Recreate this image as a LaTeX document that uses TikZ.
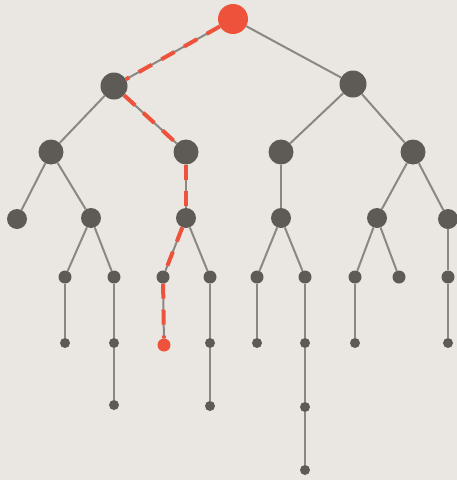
\documentclass[tikz,border=0pt]{standalone}
\usepackage{tikz}
\definecolor{paper}{HTML}{EAE7E3}
\definecolor{dot}{HTML}{5E5A56}
\definecolor{edge}{HTML}{8B8884}
\definecolor{hot}{HTML}{EE523B}

\begin{document}
\begin{tikzpicture}[x=1pt, y=-1pt,
    vert/.style = {circle, fill=dot, inner sep=0pt, minimum size=#1},
    link/.style = {draw=edge, line width=2pt},
    path/.style = {draw=hot, line width=4pt, dash pattern=on 15pt off 11pt}]
    % Background
    \fill[paper] (0,0) rectangle (457,480);
    \useasboundingbox (0,0) rectangle (457,480);

    % Root and first level
    \node[vert=30pt, fill=hot] (r) at (233,19) {};
    \node[vert=27pt] (a1) at (114,86) {};
    \node[vert=27pt] (a2) at (353,84) {};

    % Second level
    \node[vert=25pt] (b1) at (51,152) {};
    \node[vert=25pt] (b2) at (186,152) {};
    \node[vert=25pt] (b3) at (281,152) {};
    \node[vert=25pt] (b4) at (413,152) {};

    % Third level
    \node[vert=20pt] (c1) at (17,219) {};
    \node[vert=20pt] (c2) at (91,218) {};
    \node[vert=20pt] (c3) at (186,218) {};
    \node[vert=20pt] (c4) at (281,218) {};
    \node[vert=20pt] (c5) at (377,218) {};
    \node[vert=20pt] (c6) at (448,219) {};

    % Fourth level
    \node[vert=13pt] (d1) at (65,277) {};
    \node[vert=13pt] (d2) at (114,277) {};
    \node[vert=13pt] (d3) at (163,277) {};
    \node[vert=13pt] (d4) at (210,277) {};
    \node[vert=13pt] (d5) at (257,277) {};
    \node[vert=13pt] (d6) at (305,277) {};
    \node[vert=13pt] (d7) at (355,277) {};
    \node[vert=13pt] (d8) at (399,277) {};
    \node[vert=13pt] (d9) at (448,277) {};

    % Fifth level
    \node[vert=10pt] (e1) at (65,343) {};
    \node[vert=10pt] (e2) at (114,343) {};
    \node[vert=13pt, fill=hot] (e3) at (164,345) {};
    \node[vert=10pt] (e4) at (210,343) {};
    \node[vert=10pt] (e5) at (257,343) {};
    \node[vert=10pt] (e6) at (305,343) {};
    \node[vert=10pt] (e7) at (355,343) {};
    \node[vert=10pt] (e8) at (448,343) {};

    % Deepest levels
    \node[vert=10pt] (f1) at (114,405) {};
    \node[vert=10pt] (f2) at (210,406) {};
    \node[vert=10pt] (f3) at (305,407) {};
    \node[vert=10pt] (g1) at (305,470) {};

    % Edges
    \draw[link] (r) -- (a1);
    \draw[link] (r) -- (a2);
    \draw[link] (a1) -- (b1);
    \draw[link] (a1) -- (b2);
    \draw[link] (a2) -- (b3);
    \draw[link] (a2) -- (b4);
    \draw[link] (b1) -- (c1);
    \draw[link] (b1) -- (c2);
    \draw[link] (b2) -- (c3);
    \draw[link] (b3) -- (c4);
    \draw[link] (b4) -- (c5);
    \draw[link] (b4) -- (c6);
    \draw[link] (c2) -- (d1);
    \draw[link] (c2) -- (d2);
    \draw[link] (c3) -- (d3);
    \draw[link] (c3) -- (d4);
    \draw[link] (c4) -- (d5);
    \draw[link] (c4) -- (d6);
    \draw[link] (c5) -- (d7);
    \draw[link] (c5) -- (d8);
    \draw[link] (c6) -- (d9);
    \draw[link] (d1) -- (e1);
    \draw[link] (d2) -- (e2);
    \draw[link] (d3) -- (e3);
    \draw[link] (d4) -- (e4);
    \draw[link] (d5) -- (e5);
    \draw[link] (d6) -- (e6);
    \draw[link] (d7) -- (e7);
    \draw[link] (d9) -- (e8);
    \draw[link] (e2) -- (f1);
    \draw[link] (e4) -- (f2);
    \draw[link] (e6) -- (f3);
    \draw[link] (f3) -- (g1);

    % Highlighted path
    \draw[path] (r) -- (a1);
    \draw[path] (a1) -- (b2);
    \draw[path] (b2) -- (c3);
    \draw[path] (c3) -- (d3);
    \draw[path] (d3) -- (e3);

\end{tikzpicture}
\end{document}
